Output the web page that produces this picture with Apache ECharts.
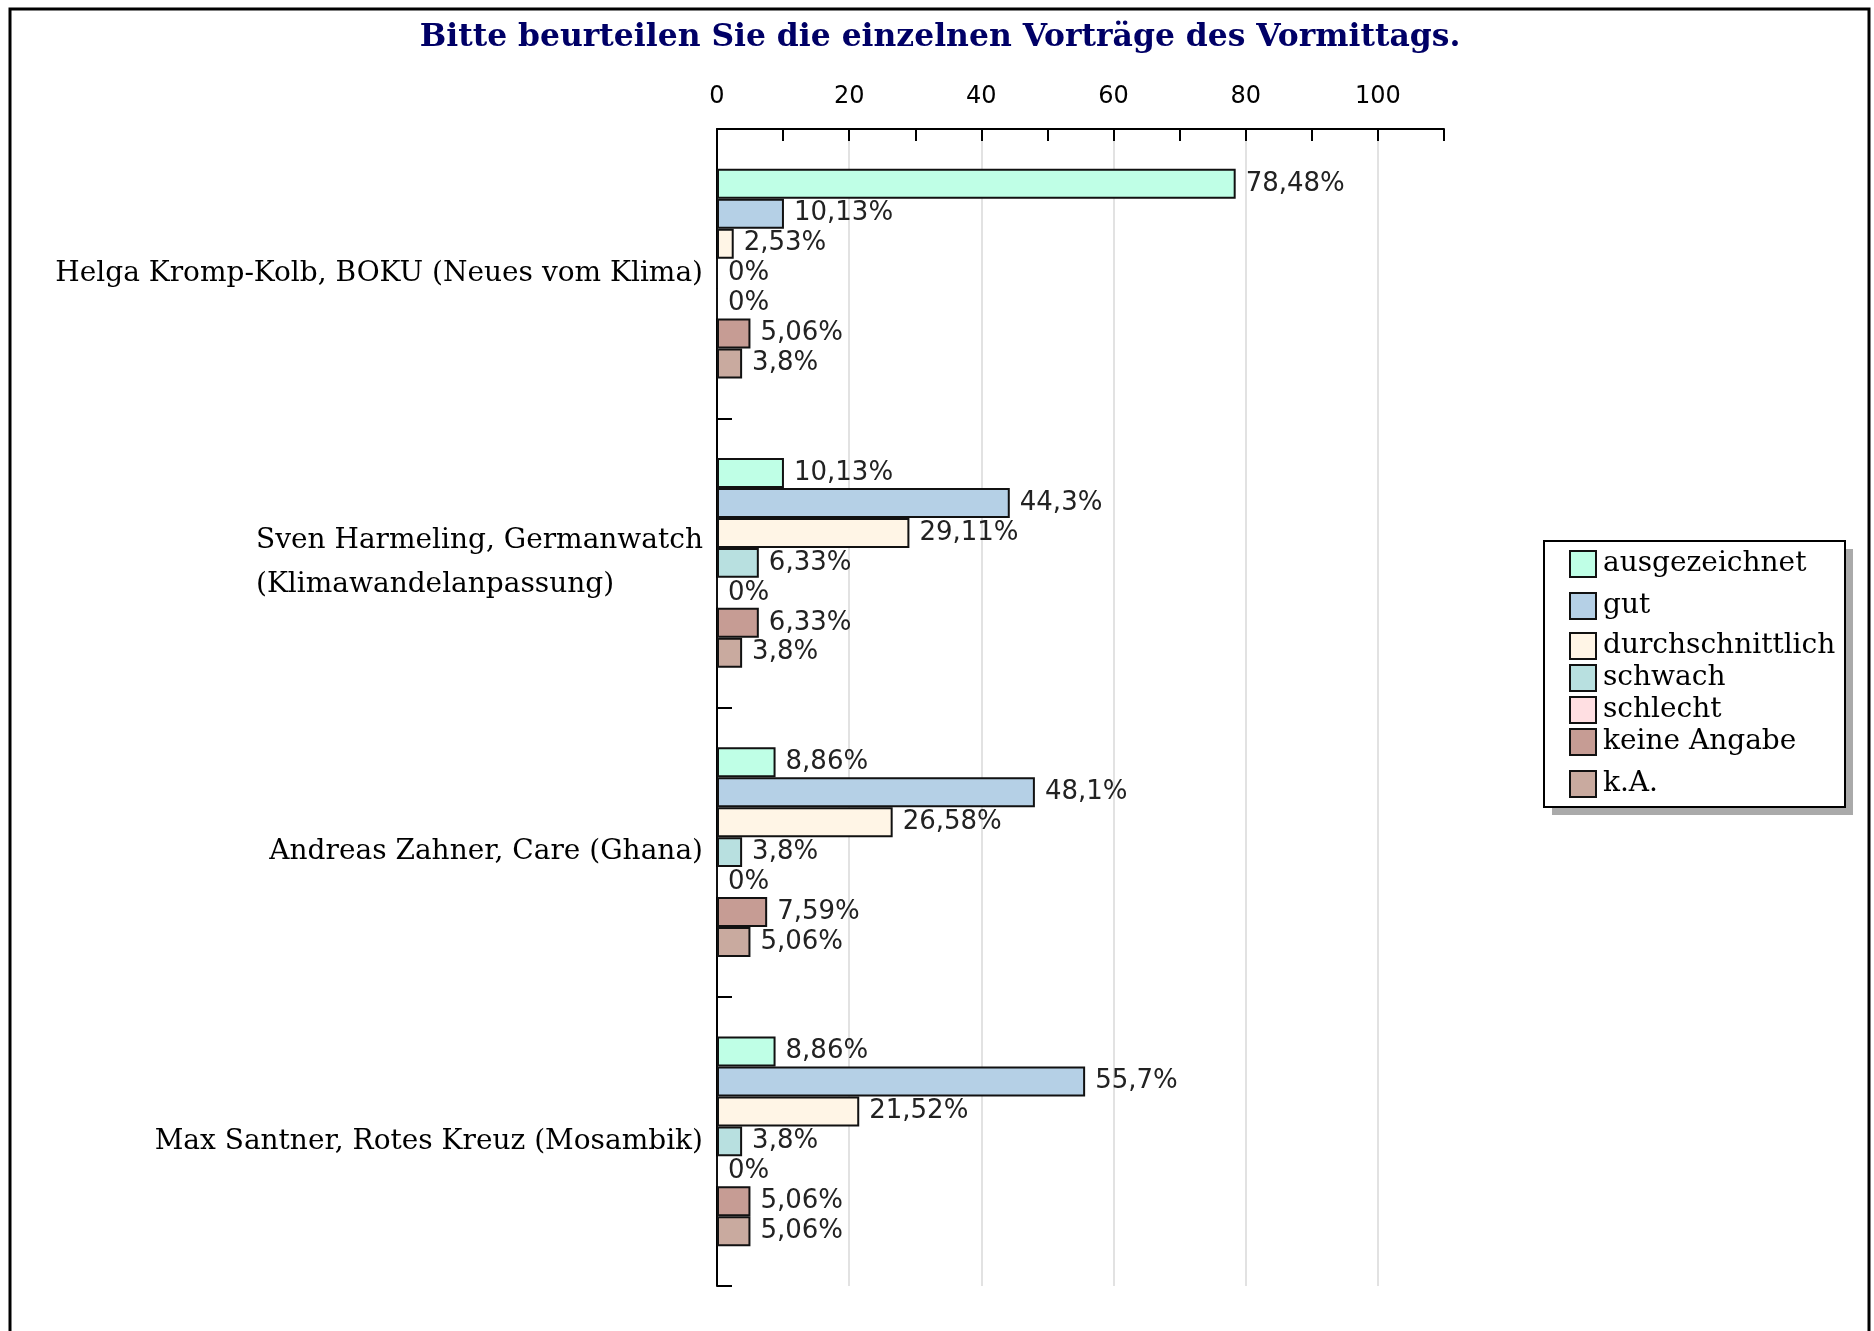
<!DOCTYPE html>
<html>
<head>
<meta charset="utf-8">
<script src="https://cdn.jsdelivr.net/npm/echarts@6/dist/echarts.min.js"></script>
<style>
html,body{margin:0;padding:0;background:#fff;}
#chart{width:1874px;height:1331px;}
</style>
</head>
<body>
<div id="chart"></div>
<script>
var categories = [
  'Helga Kromp-Kolb, BOKU (Neues vom Klima)',
  'Sven Harmeling, Germanwatch\n(Klimawandelanpassung)',
  'Andreas Zahner, Care (Ghana)',
  'Max Santner, Rotes Kreuz (Mosambik)'
];
var seriesNames = ['ausgezeichnet', 'gut', 'durchschnittlich', 'schwach', 'schlecht', 'keine Angabe', 'k.A.'];
var ausgezeichnet = [78.48, 10.13, 8.86, 8.86];
var gut = [10.13, 44.3, 48.1, 55.7];
var durchschnittlich = [2.53, 29.11, 26.58, 21.52];
var schwach = [0, 6.33, 3.8, 3.8];
var schlecht = [0, 0, 0, 0];
var keineAngabe = [5.06, 6.33, 7.59, 5.06];
var kA = [3.8, 3.8, 5.06, 5.06];
var xTickLabels = [0, 20, 40, 60, 80, 100];

var seriesValues = [ausgezeichnet, gut, durchschnittlich, schwach, schlecht, keineAngabe, kA];
var colors = ['#bfffe6', '#b5d0e6', '#fff5e6', '#b8e0e0', '#ffdfe2', '#c69c94', '#c9aa9f'];
var legendCenters = [563, 605, 645, 677, 709, 741, 783];

var chart = echarts.init(document.getElementById('chart'), null, {renderer: 'canvas'});

var series = seriesNames.map(function (name, i) {
  return {
    name: name,
    type: 'bar',
    data: seriesValues[i],
    barGap: '0%',
    barCategoryGap: '27.5%',
    itemStyle: {color: colors[i], borderColor: '#111', borderWidth: 2},
    label: {
      show: true,
      position: 'right',
      distance: 10,
      fontFamily: 'DejaVu Sans',
      fontSize: 26,
      color: '#222',
      formatter: function (p) { return String(p.value).replace('.', ',') + '%'; }
    },
    emphasis: {disabled: true},
    animation: false
  };
});

var legends = seriesNames.map(function (name, i) {
  return {
    data: [name],
    left: 1569,
    top: legendCenters[i] - 13,
    orient: 'vertical',
    padding: 0,
    itemWidth: 26,
    itemHeight: 26,
    icon: 'rect',
    selectedMode: false,
    itemStyle: {borderColor: '#111', borderWidth: 2},
    textStyle: {fontFamily: 'DejaVu Serif', fontSize: 28, color: '#000', padding: [0, 0, 0, 2]},
    z: 10
  };
});

var option = {
  backgroundColor: '#fff',
  animation: false,
  title: {
    text: 'Bitte beurteilen Sie die einzelnen Vorträge des Vormittags.',
    left: 940,
    textAlign: 'center',
    top: 22,
    padding: 0,
    textStyle: {fontFamily: 'DejaVu Serif', fontWeight: 'bold', fontSize: 31.4, color: '#000066'}
  },
  legend: legends,
  grid: {left: 717, top: 129, width: 727, height: 1157, containLabel: false},
  xAxis: {
    type: 'value',
    position: 'top',
    min: 0,
    max: 110,
    interval: 10,
    axisLine: {show: true, lineStyle: {color: '#000', width: 2}},
    axisTick: {show: true, inside: true, length: 12, lineStyle: {color: '#000', width: 2}},
    axisLabel: {
      margin: 20,
      fontFamily: 'DejaVu Sans',
      fontSize: 24,
      color: '#000',
      showMaxLabel: true,
      formatter: function (v) { return xTickLabels.indexOf(v) >= 0 ? String(v) : ''; }
    },
    splitLine: {show: true, lineStyle: {color: ['#d9d9d9', 'rgba(0,0,0,0)'], width: 1.5}}
  },
  yAxis: {
    type: 'category',
    inverse: true,
    data: categories,
    axisLine: {show: true, lineStyle: {color: '#000', width: 2}},
    axisTick: {show: true, inside: true, length: 15, lineStyle: {color: '#000', width: 2}},
    axisLabel: {
      margin: 14,
      fontFamily: 'DejaVu Serif',
      fontSize: 28,
      lineHeight: 44,
      color: '#000',
      formatter: function (v) {
        return v.split('\n').map(function (l) { return '{l|' + l + '}'; }).join('\n');
      },
      rich: {l: {align: 'left', fontFamily: 'DejaVu Serif', fontSize: 28, lineHeight: 44, color: '#000'}}
    },
    splitLine: {show: false}
  },
  graphic: [
    {
      type: 'polyline', z: 100, silent: true,
      shape: {points: [[10, 1340], [10, 9], [1869, 9], [1869, 1340]]},
      style: {stroke: '#000', lineWidth: 3, fill: null}
    },
    {
      type: 'rect', z: 1, silent: true,
      shape: {x: 1552, y: 549, width: 301, height: 266},
      style: {fill: '#aaaaaa', stroke: null}
    },
    {
      type: 'rect', z: 2, silent: true,
      shape: {x: 1544, y: 541, width: 301, height: 266},
      style: {fill: '#fff', stroke: '#000', lineWidth: 2}
    }
  ],
  series: series
};
chart.setOption(option);
</script>
</body>
</html>
